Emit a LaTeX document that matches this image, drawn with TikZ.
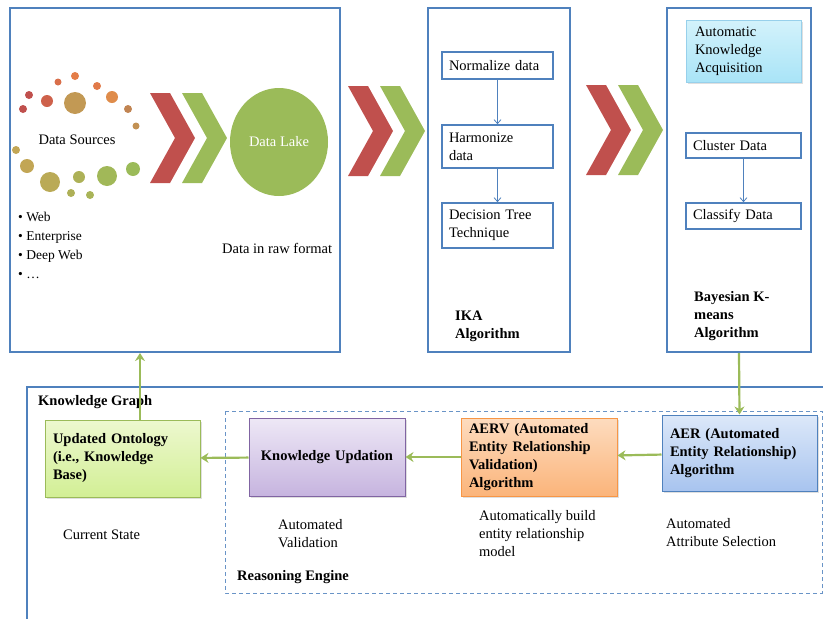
\documentclass[tikz,border=0pt]{standalone}
\usepackage{fontspec}
\setmainfont{Liberation Serif}
\usetikzlibrary{arrows.meta,shapes.geometric,shadows}
\definecolor{ablue}{HTML}{4F81BD}
\definecolor{agreen}{HTML}{9BBB59}
\definecolor{ared}{HTML}{C0504D}
\definecolor{aochre}{HTML}{C2A655}
\definecolor{aorange}{HTML}{F79646}
\definecolor{apurple}{HTML}{8064A2}
\definecolor{ontotop}{HTML}{EDF8CF}
\definecolor{ontobot}{HTML}{D2EF95}
\definecolor{kutop}{HTML}{EEE8F6}
\definecolor{kubot}{HTML}{C6B4DF}
\definecolor{aervtop}{HTML}{FDDCBF}
\definecolor{aervbot}{HTML}{FBB47A}
\definecolor{aertop}{HTML}{DCE8F9}
\definecolor{aerbot}{HTML}{A8C4EF}
\definecolor{akatop}{HTML}{D3F2FB}
\definecolor{akabot}{HTML}{A9E4F7}
% chevron: left x, top y, colour
\newcommand\chev[3]{\fill[#3] (#1,#2) -- ++(20,0) -- ++(25,45) -- ++(-25,45) -- ++(-20,0) -- ++(25,-45) -- cycle;}

\begin{document}
\begin{tikzpicture}[x=1pt,y=-1pt,
every node/.style={font=\fontsize{14.5}{18}\selectfont},
panel/.style={draw=ablue,line width=2pt,inner sep=0pt,minimum height=344pt},
inbox/.style={draw=ablue,line width=1.6pt,fill=white,align=left,inner xsep=7pt,inner ysep=0pt},
colbox/.style={line width=1pt,align=left,inner xsep=8pt,inner ysep=0pt,font=\fontsize{14.5}{18}\selectfont\bfseries,
  drop shadow={shadow xshift=1.5pt,shadow yshift=-1.5pt,opacity=0.25}},
garrow/.style={draw=agreen,line width=2.2pt,-{Stealth[length=8pt,width=10pt]}},
barrow/.style={draw=ablue,line width=0.8pt,-{Straight Barb[length=4pt,width=7pt]}}]
\useasboundingbox (0,0) rectangle (823,619);

% top row
\node[panel,minimum width=330pt] (src) at (175,180) {};
\node[panel,minimum width=142pt] (ika) at (499,180) {};
\node[panel,minimum width=144pt] (bkm) at (739,180) {};

% data sources
\foreach \px/\py/\r/\c in {75/76/4/ared!35!aorange, 58/82/3.5/ared!55!aorange, 29/95/4/ared, 47/101/6/ared!75!aorange,
  75/103/11/aochre!85!ared, 97/86/4/ared!40!aorange, 112/97/6/aorange!70!aochre!80!ared, 128/109/4/aochre!60!ared,
  136/126/3.5/aochre!75!ared, 23/109/4/ared, 16/150/4/aochre, 27/166/7/aochre,
  50/182/10/aochre!80!agreen, 79/177/6/aochre!45!agreen, 71/193/4/aochre!50!agreen, 90/195/4/aochre!35!agreen,
  107/176/10/agreen!85!aochre, 133/169/7/agreen}
  \fill[\c] (\px,\py) circle (\r pt);
\node (dsrc) at (77,140) {Data Sources};
\node[anchor=north west,align=left,inner sep=0pt,font=\fontsize{13.5}{19}\selectfont] (kinds) at (18,212)
  {\textbullet~Web\\ \textbullet~Enterprise\\ \textbullet~Deep Web\\ \textbullet~\dots};
\node[ellipse,fill=agreen,text=white,minimum width=98pt,minimum height=108pt] (lake) at (279,142) {Data Lake};
\node[anchor=west,inner sep=0pt] (raw) at (222,248) {Data in raw format};

% chevrons
\foreach \cx/\cy in {150/93, 348/86, 586/85}{
  \chev{\cx}{\cy}{ared}
  \chev{\cx+32}{\cy}{agreen}
}

% IKA
\node[inbox,text width=97pt,minimum height=27pt] (norm) at (497.5,65.5) {Normalize data};
\node[inbox,text width=97pt,minimum height=43pt] (harm) at (497.5,146.5) {Harmonize\\data};
\node[inbox,text width=97pt,minimum height=45pt] (dtree) at (497.5,225.5) {Decision Tree\\Technique};
\draw[barrow] (norm) -- (harm);
\draw[barrow] (harm) -- (dtree);
\node[anchor=north west,align=left,inner sep=0pt,font=\fontsize{14.5}{18}\selectfont\bfseries] (ikat) at (455,311) {IKA\\Algorithm};

% Bayesian K-means
\node[draw=akabot!80!ablue,line width=1pt,top color=akatop,bottom color=akabot,align=left,
  inner xsep=9pt,text width=97pt,minimum height=62pt,drop shadow={shadow xshift=1.5pt,shadow yshift=-1.5pt,opacity=0.25}] (aka) at (743.5,51)
  {Automatic\\Knowledge\\Acquisition};
\node[inbox,text width=101pt,minimum height=25pt] (clus) at (743.5,145.5) {Cluster Data};
\node[inbox,text width=101pt,minimum height=26pt] (clas) at (743.5,216) {Classify Data};
\draw[barrow] (clus) -- (clas);
\node[anchor=north west,align=left,inner sep=0pt,font=\fontsize{14.5}{18}\selectfont\bfseries] (bkmt) at (694,291) {Bayesian K-\\means\\Algorithm};

% knowledge graph
\draw[ablue,line width=2pt] (27,619) -- (27,387) -- (823,387);
\node[anchor=west,inner sep=0pt,font=\fontsize{14.5}{18}\selectfont\bfseries] (kgt) at (38,402) {Knowledge Graph};
\draw[ablue!85,line width=1pt,dash pattern=on 4pt off 3pt] (225,411) rectangle (822,593);

\node[colbox,draw=agreen,top color=ontotop,bottom color=ontobot,text width=139pt,minimum height=77pt] (onto) at (122.5,458.5)
  {Updated Ontology\\(i.e., Knowledge\\Base)};
\node[colbox,draw=apurple,top color=kutop,bottom color=kubot,align=center,text width=140pt,minimum height=78pt] (kupd) at (327,457)
  {Knowledge Updation};
\node[colbox,draw=aorange,top color=aervtop,bottom color=aervbot,text width=140pt,minimum height=78pt] (aerv) at (539,457)
  {AERV (Automated\\Entity Relationship\\Validation)\\Algorithm};
\node[colbox,draw=ablue,top color=aertop,bottom color=aerbot,text width=139pt,minimum height=76pt] (aer) at (739.5,453)
  {AER (Automated\\Entity Relationship)\\Algorithm};

\draw[garrow] (bkm.south) -- (aer.north);
\draw[garrow] (aer) -- (aerv);
\draw[garrow] (aerv) -- (kupd);
\draw[garrow] (kupd) -- (onto);
\draw[garrow] ([xshift=17.5pt]onto.north) -- ([xshift=17.5pt]onto.north |- src.south);

\node[anchor=west,inner sep=0pt] (cur) at (63,535) {Current State};
\node[anchor=north west,align=left,inner sep=0pt] (aval) at (278,519) {Automated\\Validation};
\node[anchor=north west,align=left,inner sep=0pt] (abld) at (479,510) {Automatically build\\entity relationship\\model};
\node[anchor=north west,align=left,inner sep=0pt] (asel) at (666,518) {Automated\\Attribute Selection};
\node[anchor=west,inner sep=0pt,font=\fontsize{14.5}{18}\selectfont\bfseries] (ret) at (237,577) {Reasoning Engine};
\end{tikzpicture}
\end{document}
